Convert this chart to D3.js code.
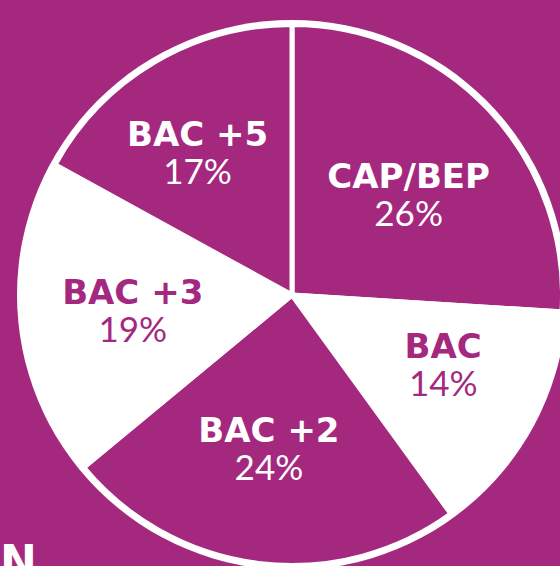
<!DOCTYPE html>
<html>
<head>
<meta charset="utf-8">
<script src="https://cdn.jsdelivr.net/npm/d3@7/dist/d3.min.js"></script>
<style>
  html, body { margin: 0; padding: 0; background: #A5287F; }
  svg { display: block; }
</style>
</head>
<body>
<svg id="chart" width="560" height="566"></svg>
<script>
const categories = ["CAP/BEP", "BAC", "BAC +2", "BAC +3", "BAC +5"];
const values = [26, 14, 24, 19, 17];
const percentLabels = ["26%", "14%", "24%", "19%", "17%"];

const PURPLE = "#A5287F";
const WHITE = "#FFFFFF";
const W = 560, H = 566;
const cx = 292, cy = 295;
const R = 275;

// small layout nudges for label placement (pixels), per slice
const labelNudge = [[0, 9], [11, -8], [-3, -6], [0, 0], [-13, -5]];

const svg = d3.select("#chart");
svg.append("rect").attr("width", W).attr("height", H).attr("fill", PURPLE);

const g = svg.append("g").attr("transform", `translate(${cx},${cy})`);

g.append("circle").attr("r", R).attr("fill", WHITE);

const pie = d3.pie().sort(null).value(d => d).startAngle(0).endAngle(2 * Math.PI);
const arcs = pie(values);
const arc = d3.arc().innerRadius(0).outerRadius(270.5);
const labelArc = d3.arc().innerRadius(160).outerRadius(160);

g.selectAll("path.slice")
  .data(arcs)
  .join("path")
  .attr("class", "slice")
  .attr("d", arc)
  .attr("fill", (d, i) => i % 2 === 0 ? PURPLE : WHITE)
  .attr("stroke", WHITE)
  .attr("stroke-width", 5)
  .attr("stroke-linejoin", "miter");

const lbl = g.selectAll("g.label")
  .data(arcs)
  .join("g")
  .attr("class", "label")
  .attr("transform", (d, i) => {
    const c = labelArc.centroid(d);
    return `translate(${c[0] + labelNudge[i][0]},${c[1] + labelNudge[i][1]})`;
  });

lbl.append("text")
  .attr("text-anchor", "middle")
  .attr("y", -6)
  .attr("font-family", "DejaVu Sans")
  .attr("font-weight", "bold")
  .attr("font-size", 34)
  .attr("fill", (d, i) => i % 2 === 0 ? WHITE : PURPLE)
  .text((d, i) => categories[i]);

lbl.append("text")
  .attr("text-anchor", "middle")
  .attr("y", 32)
  .attr("font-family", "Lato")
  .attr("font-weight", 400)
  .attr("font-size", 35)
  .attr("fill", (d, i) => i % 2 === 0 ? WHITE : PURPLE)
  .text((d, i) => percentLabels[i]);

svg.append("text")
  .attr("x", 0)
  .attr("y", 577)
  .attr("font-family", "DejaVu Sans")
  .attr("font-weight", "bold")
  .attr("font-size", 44)
  .attr("fill", WHITE)
  .text("N");
</script>
</body>
</html>
